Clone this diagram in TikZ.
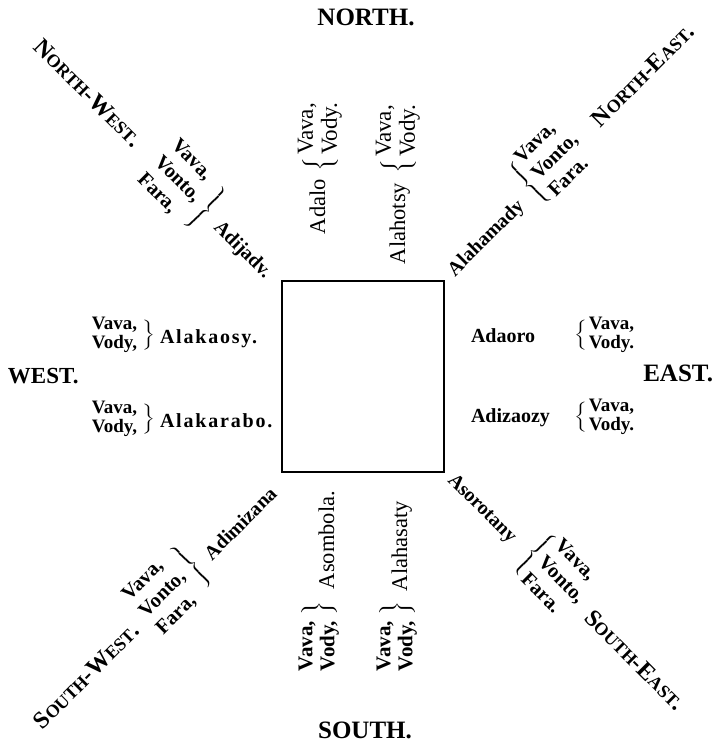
\documentclass[tikz,border=0pt]{standalone}
\usepackage{graphicx}
\usepackage{fontspec}
\setmainfont{Liberation Serif}
\newcommand\smc[1]{{\fontsize{18}{18}\selectfont #1}}
\newcommand\blk[1]{\begin{tabular}{@{}l@{}}#1\end{tabular}}
\newcommand\lbr[1]{\scalebox{1.6}[1]{$\left\{\vcenter{\hbox{\rule{0pt}{#1}}}\right.$}}
\newcommand\rbr[1]{\scalebox{1.6}[1]{$\left.\vcenter{\hbox{\rule{0pt}{#1}}}\right\}$}}
\newcommand\pn[1]{{\fontsize{20}{20}\selectfont #1}}
\newcommand\pw[1]{{\fontsize{20}{20}\selectfont\addfontfeatures{LetterSpace=9}#1}}
\newcommand\pv[1]{{\fontsize{22.5}{22}\selectfont\mdseries #1}}
\begin{document}
\begin{tikzpicture}[x=1pt,y=-1pt,
  every node/.style={inner sep=0pt,outer sep=0pt,font=\fontsize{19}{19}\selectfont\bfseries},
  card/.style={font=\fontsize{25}{25}\selectfont\bfseries},
  diag/.style={font=\fontsize{24}{24}\selectfont\bfseries},
  dblk/.style={font=\fontsize{20.5}{24}\selectfont\bfseries},
  nblk/.style={font=\fontsize{23}{24}\selectfont\mdseries},
  sblk/.style={font=\fontsize{21}{22}\selectfont\bfseries}]
\useasboundingbox (0,0) rectangle (717,742);
\node[draw,line width=1.3pt,minimum width=162pt,minimum height=191pt] (sq) at (363,376.5) {};
% cardinal points
\node[card,anchor=base] (north) at (366,25) {NORTH.};
\node[card,anchor=base] (south) at (365,738) {SOUTH.};
\node[card,font=\fontsize{23}{23}\selectfont\bfseries,anchor=base west] (west) at (8,383) {WEST.};
\node[card,anchor=base east] (east) at (713,381) {EAST.};
% west
\node[anchor=east] (wv1) at (155,335) {\blk{Vava,\\Vody,}\,\rbr{32pt}};
\node[anchor=base west] (alakaosy) at (160,343) {\pw{Alakaosy.}};
\node[anchor=east] (wv2) at (155,419) {\blk{Vava,\\Vody,}\,\rbr{32pt}};
\node[anchor=base west] (alakarabo) at (160,427) {\pw{Alakarabo.}};
% east
\node[anchor=base west] (adaoro) at (471,342) {\pn{Adaoro}};
\node[anchor=west] (ev1) at (574,335) {\lbr{32pt}\blk{Vava,\\Vody.}};
\node[anchor=base west] (adizaozy) at (471,422) {\pn{Adizaozy}};
\node[anchor=west] (ev2) at (574,417) {\lbr{32pt}\blk{Vava,\\Vody.}};
% north
\node[rotate=90,anchor=base west] (adalo) at (325,234) {\pv{Adalo}};
\node[nblk,rotate=90,anchor=west] (nv1) at (320,171) {\lbr{38pt}\blk{Vava,\\Vody.}};
\node[rotate=90,anchor=base west] (alahotsy) at (405,264) {\pv{Alahotsy}};
\node[nblk,rotate=90,anchor=west] (nv2) at (398,173) {\lbr{38pt}\blk{Vava,\\Vody.}};
% south
\node[sblk,rotate=90,anchor=west] (sv1) at (319,671) {\blk{Vava,\\Vody,}\,\rbr{34pt}};
\node[rotate=90,anchor=base west] (asombola) at (334,589) {\pv{Asombola.}};
\node[sblk,rotate=90,anchor=west] (sv2) at (397,671) {\blk{Vava,\\Vody,}\,\rbr{34pt}};
\node[rotate=90,anchor=base west] (alahasaty) at (407,591) {\pv{Alahasaty}};
% north-west
\node[diag,rotate=-45] (nw) at (88,93) {N\smc{ORTH}-W\smc{EST}.};
\node[dblk,rotate=-45,anchor=east] (nwv) at (211,214) {\blk{Vava,\\Vonto,\\Fara,}\,\rbr{54pt}};
\node[rotate=-45,anchor=base west] (adijadv) at (213,228) {\pn{Adijadv.}};
% north-east
\node[rotate=45,anchor=base west] (alahamady) at (455,277) {\pn{Alahamady}};
\node[dblk,rotate=45,anchor=west] (nev) at (524,189) {\lbr{54pt}\blk{Vava,\\Vonto,\\Fara.}};
\node[diag,rotate=45] (ne) at (643,75) {N\smc{ORTH}-E\smc{AST}.};
% south-east
\node[rotate=-45,anchor=base west] (asorotany) at (447,481) {\pn{Asorotany}};
\node[dblk,rotate=-45,anchor=west] (sev) at (529,549) {\lbr{54pt}\blk{Vava,\\Vonto,\\Fara.}};
\node[diag,rotate=-45] (se) at (635,660) {S\smc{OUTH}-E\smc{AST}.};
% south-west
\node[rotate=45,anchor=base west] (adimizana) at (212,561) {\pn{Adimizana}};
\node[dblk,rotate=45,anchor=east] (swv) at (197,561) {\blk{Vava,\\Vonto,\\Fara,}\,\rbr{54pt}};
\node[diag,rotate=45] (sw) at (86,676) {S\smc{OUTH}-W\smc{EST}.};
\end{tikzpicture}
\end{document}
